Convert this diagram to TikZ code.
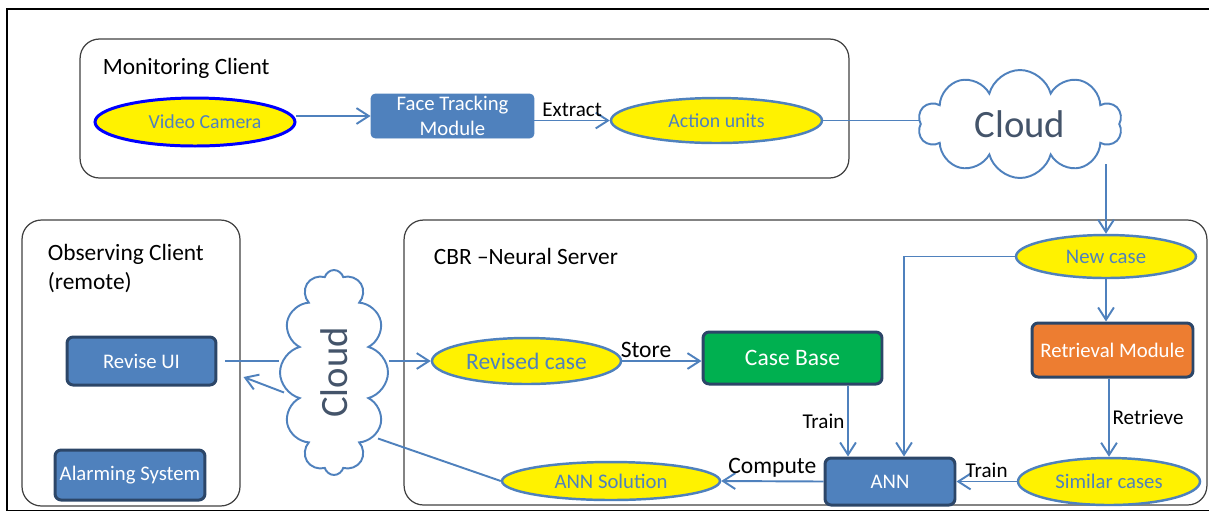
\documentclass[tikz,border=0pt]{standalone}
\usepackage{fontspec}
\setmainfont{Carlito}
\usepackage{xcolor}
\usepackage{tikz}
\usetikzlibrary{arrows.meta,positioning,shapes.geometric,shapes.symbols}
\definecolor{acblue}{RGB}{79,129,189}
\definecolor{darkrim}{RGB}{44,70,104}
\definecolor{casegreen}{RGB}{0,176,80}
\definecolor{retorange}{RGB}{237,125,49}
\definecolor{cloudtext}{RGB}{68,84,106}
\definecolor{grouprim}{RGB}{64,64,64}

\begin{document}
\begin{tikzpicture}[
  x=0.02cm,y=-0.02cm,
  group/.style={draw=grouprim,line width=0.7pt,rounded corners=11pt},
  title/.style={anchor=west,inner sep=2pt,font=\fontsize{13.3}{16.5}\selectfont,align=left},
  casenode/.style={ellipse,draw=acblue,line width=1.4pt,fill=yellow,text=acblue,inner sep=0pt,font=\fontsize{11.8}{14}\selectfont},
  module/.style={draw=darkrim,line width=1.7pt,rounded corners=3.5pt,fill=acblue,text=white,align=center,inner sep=0pt,font=\fontsize{11.8}{14}\selectfont},
  cloudy/.style={cloud,cloud puffs=10,cloud puff arc=150,cloud ignores aspect,draw=acblue,line width=1.1pt,fill=white,text=cloudtext,inner sep=0pt,font=\fontsize{22}{26}\selectfont},
  arr/.style={-{Straight Barb[length=7pt,width=9pt]},line width=1.1pt,draw=acblue},
  link/.style={line width=1.1pt,draw=acblue},
  lbl/.style={font=\fontsize{12}{14}\selectfont,inner sep=1.5pt},
  big/.style={font=\fontsize{13.4}{16}\selectfont}
]
\useasboundingbox (0,0) rectangle (1209,512);
\clip (0,0) rectangle (1209,512);
\draw[line width=1pt] (7,9) rectangle (1240,510.5);

% groups
\node[group,minimum width=15.38cm,minimum height=2.78cm] (mon) at (464.5,108.5) {};
\node[title] (monT) at (99,68) {Monitoring Client};
\node[group,minimum width=4.36cm,minimum height=5.72cm] (obs) at (131,363) {};
\node[title,anchor=north west] (obsT) at (44,240) {Observing Client\\(remote)};
\node[group,minimum width=16.06cm,minimum height=5.7cm] (cbr) at (805.5,362.5) {};
\node[title] (cbrT) at (430,256) {CBR –Neural Server};

% nodes
\node[casenode,draw=blue,line width=1.7pt,minimum width=4cm,minimum height=0.96cm,font=\fontsize{11.3}{14}\selectfont] (cam) at (195,122) {\hspace*{0.4cm}Video Camera};
\node[module,draw=acblue,line width=0.5pt,rounded corners=2.5pt,minimum width=3.26cm,minimum height=0.88cm] (ftm) at (452.5,116) {Face Tracking\\Module};
\node[casenode,minimum width=4.22cm,minimum height=0.9cm,font=\fontsize{11.3}{14}\selectfont] (au) at (716.5,120.5) {Action units};
\node[cloudy,minimum width=4.08cm,minimum height=2.16cm] (cloudA) at (1020,124) {Cloud};
\node[casenode,minimum width=3.6cm,minimum height=0.86cm] (nc) at (1106,256.5) {New case};
\node[module,fill=retorange,minimum width=3.22cm,minimum height=1.08cm] (ret) at (1112.5,350) {Retrieval Module};
\node[casenode,minimum width=3.64cm,minimum height=0.94cm] (sim) at (1109,481.5) {Similar cases};
\node[module,minimum width=2.6cm,minimum height=0.94cm] (ann) at (890,481.5) {ANN};
\node[casenode,minimum width=4.36cm,minimum height=0.76cm] (sol) at (611,481) {ANN Solution};
\node[module,fill=casegreen,big,minimum width=3.58cm,minimum height=1.04cm] (cb) at (792.5,358) {Case Base};
\node[casenode,big,minimum width=3.78cm,minimum height=0.92cm] (rc) at (526.5,361) {Revised case};
\node[module,minimum width=2.98cm,minimum height=0.96cm] (rui) at (141.5,361) {Revise UI};
\node[module,minimum width=3cm,minimum height=1cm] (alarm) at (130,475) {Alarming System};
\node[cloudy,cloud puffs=12,rotate=90,minimum width=4.1cm,minimum height=2.16cm] (cloudB) at (334,372.5) {Cloud};

% helper points
\coordinate (cAout) at (cloudA.-30);
\coordinate (ncIn) at ([xshift=0.28cm]ann.north);
\coordinate (cbIn) at ([xshift=-0.84cm]ann.north);
\coordinate (cBlow) at ([shift={(-50,20)}]cloudB.center);
\coordinate (cBdown) at ([shift={(44,66)}]cloudB.center);
\coordinate (ruiIn) at ([shift={(26,16)}]rui.east);

% connectors
\draw[arr] (cam.east |- ftm.west) -- (ftm.west);
\draw[arr] (ftm.east |- au.west) -- (au.west) node[lbl,midway,above] {Extract};
\draw[link] (au.east) -- (au.east -| cloudA.west);
\draw[arr] (cAout -| nc.north) -- (nc.north);
\draw[arr] (nc.west) -| (ncIn);
\draw[arr] (nc.south) -- (nc.south |- ret.north);
\draw[arr] (ret.south -| sim.north) -- (sim.north) node[lbl,midway,right] {Retrieve};
\draw[arr] (sim.west) -- (ann.east) node[lbl,midway,above] {Train};
\draw[arr] (cbIn |- cb.south) -- (cbIn) node[lbl,midway,left] {Train};
\draw[arr] (ann.west) -- (sol.east) node[lbl,big,midway,above] {Compute};
\draw[arr] (rc.east) -- (rc.east -| cb.west) node[lbl,big,pos=0.3,above] {Store};
\draw[link] ([xshift=0.16cm]rui.east) -- (rui.east -| cloudB.north);
\draw[arr] (rc.west -| cloudB.south) -- (rc.west);
\draw[arr] (cBlow) -- (ruiIn);
\draw[link] (sol.west) -- (cBdown);
\end{tikzpicture}
\end{document}
